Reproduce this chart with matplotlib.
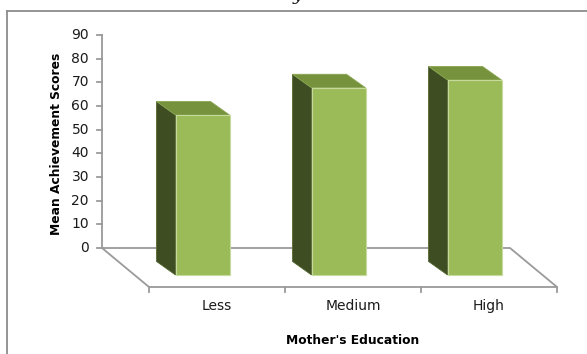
import matplotlib
matplotlib.use("Agg")
import matplotlib.pyplot as plt
from matplotlib.patches import Polygon, Rectangle

categories = ["Less", "Medium", "High"]
scores = [67.6, 79.1, 82.4]
yticks = [0, 10, 20, 30, 40, 50, 60, 70, 80, 90]
xlabel = "Mother's Education"
ylabel = "Mean Achievement Scores"

# layout of the fake 3d chart (pixel mapping of data units)
W, H = 587, 354
X0, CAT = 102, 136.0      # back floor left edge, px per category
Y0, S = 248, 2.367        # value 0 on back wall, px per unit
floor_dx, floor_dy = 47 / CAT, -39 / S        # back -> front of floor
t_front = 27 / 39.0                            # bar front face depth
bar_w = 54 / CAT
bar_dx, bar_dy = -19 / CAT, 13.5 / S           # front face -> back face

front_col = "#9BBB59"
top_col = "#76923C"
side_col = "#3F4D22"
line_col = "#9A9A9A"

fig = plt.figure(figsize=(W / 100, H / 100), dpi=100)
ax = fig.add_axes([0, 0, 1, 1])
ax.set_xlim(-X0 / CAT, (W - X0) / CAT)
ax.set_ylim((Y0 - H) / S, Y0 / S)
ax.axis("off")

n = len(categories)

# floor
fl = [(0, 0), (n, 0), (n + floor_dx, floor_dy), (floor_dx, floor_dy), (0, 0)]
ax.plot([p[0] for p in fl], [p[1] for p in fl], color=line_col, lw=1.3, zorder=1)
for i in range(n + 1):
    ax.plot([i + floor_dx, i + floor_dx], [floor_dy, floor_dy - 2.2],
            color=line_col, lw=1.3, zorder=1)

# value axis
ax.plot([0, 0], [0, yticks[-1]], color=line_col, lw=1.3, zorder=1)
for t in yticks:
    ax.plot([-5 / CAT, 0], [t, t], color=line_col, lw=1.3, zorder=1)
    ax.text(-13 / CAT, t, str(t), ha="right", va="center", fontsize=10,
            family="DejaVu Sans", color="#1a1a1a")

# bars
for i, v in enumerate(scores):
    x0 = i + 0.5 - bar_w / 2 + t_front * floor_dx
    y0 = t_front * floor_dy
    side = [(x0, y0), (x0, y0 + v), (x0 + bar_dx, y0 + v + bar_dy), (x0 + bar_dx, y0 + bar_dy)]
    top = [(x0, y0 + v), (x0 + bar_w, y0 + v),
           (x0 + bar_w + bar_dx, y0 + v + bar_dy), (x0 + bar_dx, y0 + v + bar_dy)]
    ax.add_patch(Polygon(side, closed=True, fc=side_col, ec="#55662f", lw=0.6, zorder=3))
    ax.add_patch(Polygon(top, closed=True, fc=top_col, ec="#8aa652", lw=0.6, zorder=3))
    ax.add_patch(Rectangle((x0, y0), bar_w, v, fc=front_col, ec="#C5DA9C", lw=0.8, zorder=4))

# category labels and titles
for i, c in enumerate(categories):
    ax.text(i + 0.5 + floor_dx, (Y0 - 306) / S, c, ha="center", va="center",
            fontsize=10, family="DejaVu Sans", color="#1a1a1a")
ax.text(n / 2 + floor_dx, (Y0 - 340) / S, xlabel, ha="center", va="center",
        fontsize=8.8, fontweight="bold", family="DejaVu Sans", color="#000000")
ax.text((57 - X0) / CAT, yticks[-1] / 2 - 1, ylabel, ha="center", va="center",
        rotation=90, fontsize=8.8, fontweight="bold", family="DejaVu Sans", color="#000000")

# frame of the surrounding chart area and cropped caption
fig.add_artist(plt.Line2D([7 / W, 1], [1 - 11 / H, 1 - 11 / H], color="#8C8C8C", lw=1.3))
fig.add_artist(plt.Line2D([7 / W, 7 / W], [0, 1 - 11 / H], color="#8C8C8C", lw=1.3))
fig.text(298 / W, 1.0, "y", ha="center", va="baseline", fontsize=13,
         style="italic", family="DejaVu Serif", color="#222222")

fig.savefig("out.png", dpi=100, facecolor="white")
